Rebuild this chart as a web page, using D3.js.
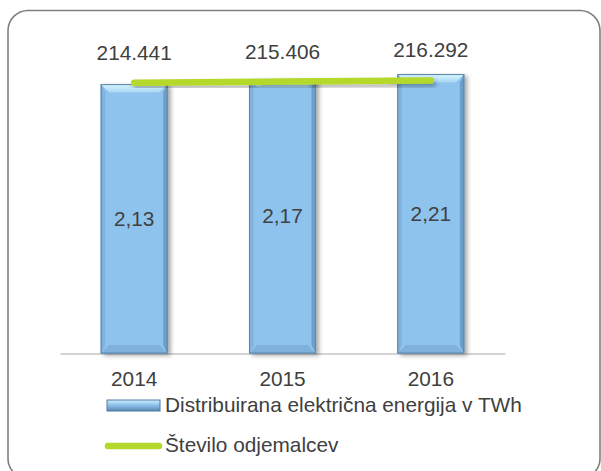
<!DOCTYPE html>
<html lang="sl">
<head>
<meta charset="utf-8">
<title>Distribuirana električna energija</title>
<style>
   html,body { margin:0; padding:0; background:white; }
   svg { display:block; font-family:"Liberation Sans", Arial, sans-serif; }
</style>
<script src="https://d3js.org/d3.v7.min.js"></script>
</head>
<body>
<script>
// data
let years = ['2014','2015','2016'];
let energija = [2.13, 2.17, 2.21];          // TWh
let odjemalci = [214441, 215406, 216292];   // število odjemalcev
let energijaLbl = ['2,13','2,17','2,21'];
let odjemalciLbl = ['214.441','215.406','216.292'];

let width = 601, height = 471;
let txt = '#404040';
let fs = 20.8;

const svg = d3.select('body').append('svg')
   .attr('width', width).attr('height', height);

let defs = svg.append('defs');
let sh = defs.append('filter').attr('id','shadow').attr('x','-20%').attr('y','-20%').attr('width','160%').attr('height','160%');
sh.append('feDropShadow').attr('dx',3).attr('dy',2).attr('stdDeviation',2).attr('flood-color','#000').attr('flood-opacity',0.35);
let shl = defs.append('filter').attr('id','shadowl').attr('x','-10%').attr('y','-200%').attr('width','120%').attr('height','500%');
shl.append('feDropShadow').attr('dx',2).attr('dy',3).attr('stdDeviation',2).attr('flood-color','#000').attr('flood-opacity',0.3);

let gTop = defs.append('linearGradient').attr('id','gtop').attr('x1',0).attr('y1',0).attr('x2',0).attr('y2',1);
gTop.append('stop').attr('offset','0%').attr('stop-color','#d8f4fc');
gTop.append('stop').attr('offset','100%').attr('stop-color','#a6d6f4');
let gLeg = defs.append('linearGradient').attr('id','gleg').attr('x1',0).attr('y1',0).attr('x2',0).attr('y2',1);
gLeg.append('stop').attr('offset','0%').attr('stop-color','#cdeefb');
gLeg.append('stop').attr('offset','45%').attr('stop-color','#8ec3ee');
gLeg.append('stop').attr('offset','100%').attr('stop-color','#5a87b0');

// frame
svg.append('rect')
   .attr('x',8).attr('y',10.5).attr('width',592).attr('height',468)
   .attr('rx',20).attr('ry',20)
   .attr('fill','none').attr('stroke','#7f7f7f').attr('stroke-width',1.6);

let x = d3.scaleBand().domain(years).range([60,505]).paddingInner(0.555).paddingOuter(0.2775);
let y = d3.scaleLinear().domain([0,2.5]).range([353,38]);
let y2 = d3.scaleLinear().domain([0,250000]).range([353,38]);

// axis line + year labels
let xAxis = svg.append('g').attr('transform','translate(0,353.5)')
   .call(d3.axisBottom(x).tickSize(0).tickPadding(18));
xAxis.select('.domain').attr('stroke','#d4d4d4').attr('stroke-width',2);
xAxis.selectAll('text').attr('font-size',fs).attr('fill',txt).attr('font-family','"Liberation Sans", Arial, sans-serif');

// bars with bevel
let bw = x.bandwidth(), bv = 8;
let bars = svg.append('g').selectAll('g').data(energija).join('g')
   .attr('transform',(d,i) => `translate(${x(years[i])},${y(d)})`);
bars.append('rect')
   .attr('width',bw).attr('height',d => y(0)-y(d))
   .attr('fill','#8ec3ee').attr('stroke','#5f8fb8').attr('stroke-width',1)
   .attr('filter','url(#shadow)');
bars.append('path')  // top bevel
   .attr('d',`M0,0 L${bw},0 L${bw-bv},${bv} L${bv},${bv} Z`)
   .attr('fill','url(#gtop)');
bars.append('path')  // left bevel
   .attr('d',d => `M0,0 L${bv/2},${bv} L${bv/2},${y(0)-y(d)-bv} L0,${y(0)-y(d)} Z`)
   .attr('fill','#7fb3de');
bars.append('path')  // right bevel
   .attr('d',d => `M${bw},0 L${bw-bv/2},${bv} L${bw-bv/2},${y(0)-y(d)-bv} L${bw},${y(0)-y(d)} Z`)
   .attr('fill','#6d9ecb');
bars.append('path')  // bottom bevel
   .attr('d',d => { let h=y(0)-y(d); return `M0,${h} L${bv},${h-bv} L${bw-bv},${h-bv} L${bw},${h} Z`; })
   .attr('fill','#7eb2dd');
bars.append('rect')
   .attr('width',bw).attr('height',d => y(0)-y(d))
   .attr('fill','none').attr('stroke','#5a86ad').attr('stroke-width',1);

// bar labels
svg.append('g').selectAll('text').data(energija).join('text')
   .attr('x',(d,i) => x(years[i])+bw/2)
   .attr('y',d => (y(d)+y(0))/2 + 7)
   .attr('text-anchor','middle').attr('font-size',fs).attr('fill',txt)
   .text((d,i) => energijaLbl[i]);

// line
let line = d3.line().x((d,i) => x(years[i])+bw/2).y(d => y2(d));
svg.append('path').datum(odjemalci)
   .attr('d',line).attr('fill','none')
   .attr('stroke','#b4d92a').attr('stroke-width',6.5).attr('stroke-linecap','round')
   .attr('filter','url(#shadowl)');

svg.append('g').selectAll('text').data(odjemalci).join('text')
   .attr('x',(d,i) => x(years[i])+bw/2)
   .attr('y',d => y2(d)-23)
   .attr('text-anchor','middle').attr('font-size',fs).attr('fill',txt)
   .text((d,i) => odjemalciLbl[i]);

// legend
let lg = svg.append('g');
lg.append('rect').attr('x',107).attr('y',400).attr('width',53).attr('height',11)
   .attr('fill','url(#gleg)').attr('stroke','#4f7aa3').attr('stroke-width',1);
lg.append('text').attr('x',165).attr('y',412).attr('font-size',fs).attr('fill',txt)
   .text('Distribuirana električna energija v TWh');
lg.append('line').attr('x1',108).attr('x2',159).attr('y1',446).attr('y2',446)
   .attr('stroke','#b4d92a').attr('stroke-width',6.5).attr('stroke-linecap','round');
lg.append('text').attr('x',165).attr('y',452).attr('font-size',fs).attr('fill',txt)
   .text('Število odjemalcev');
</script>
</body>
</html>
